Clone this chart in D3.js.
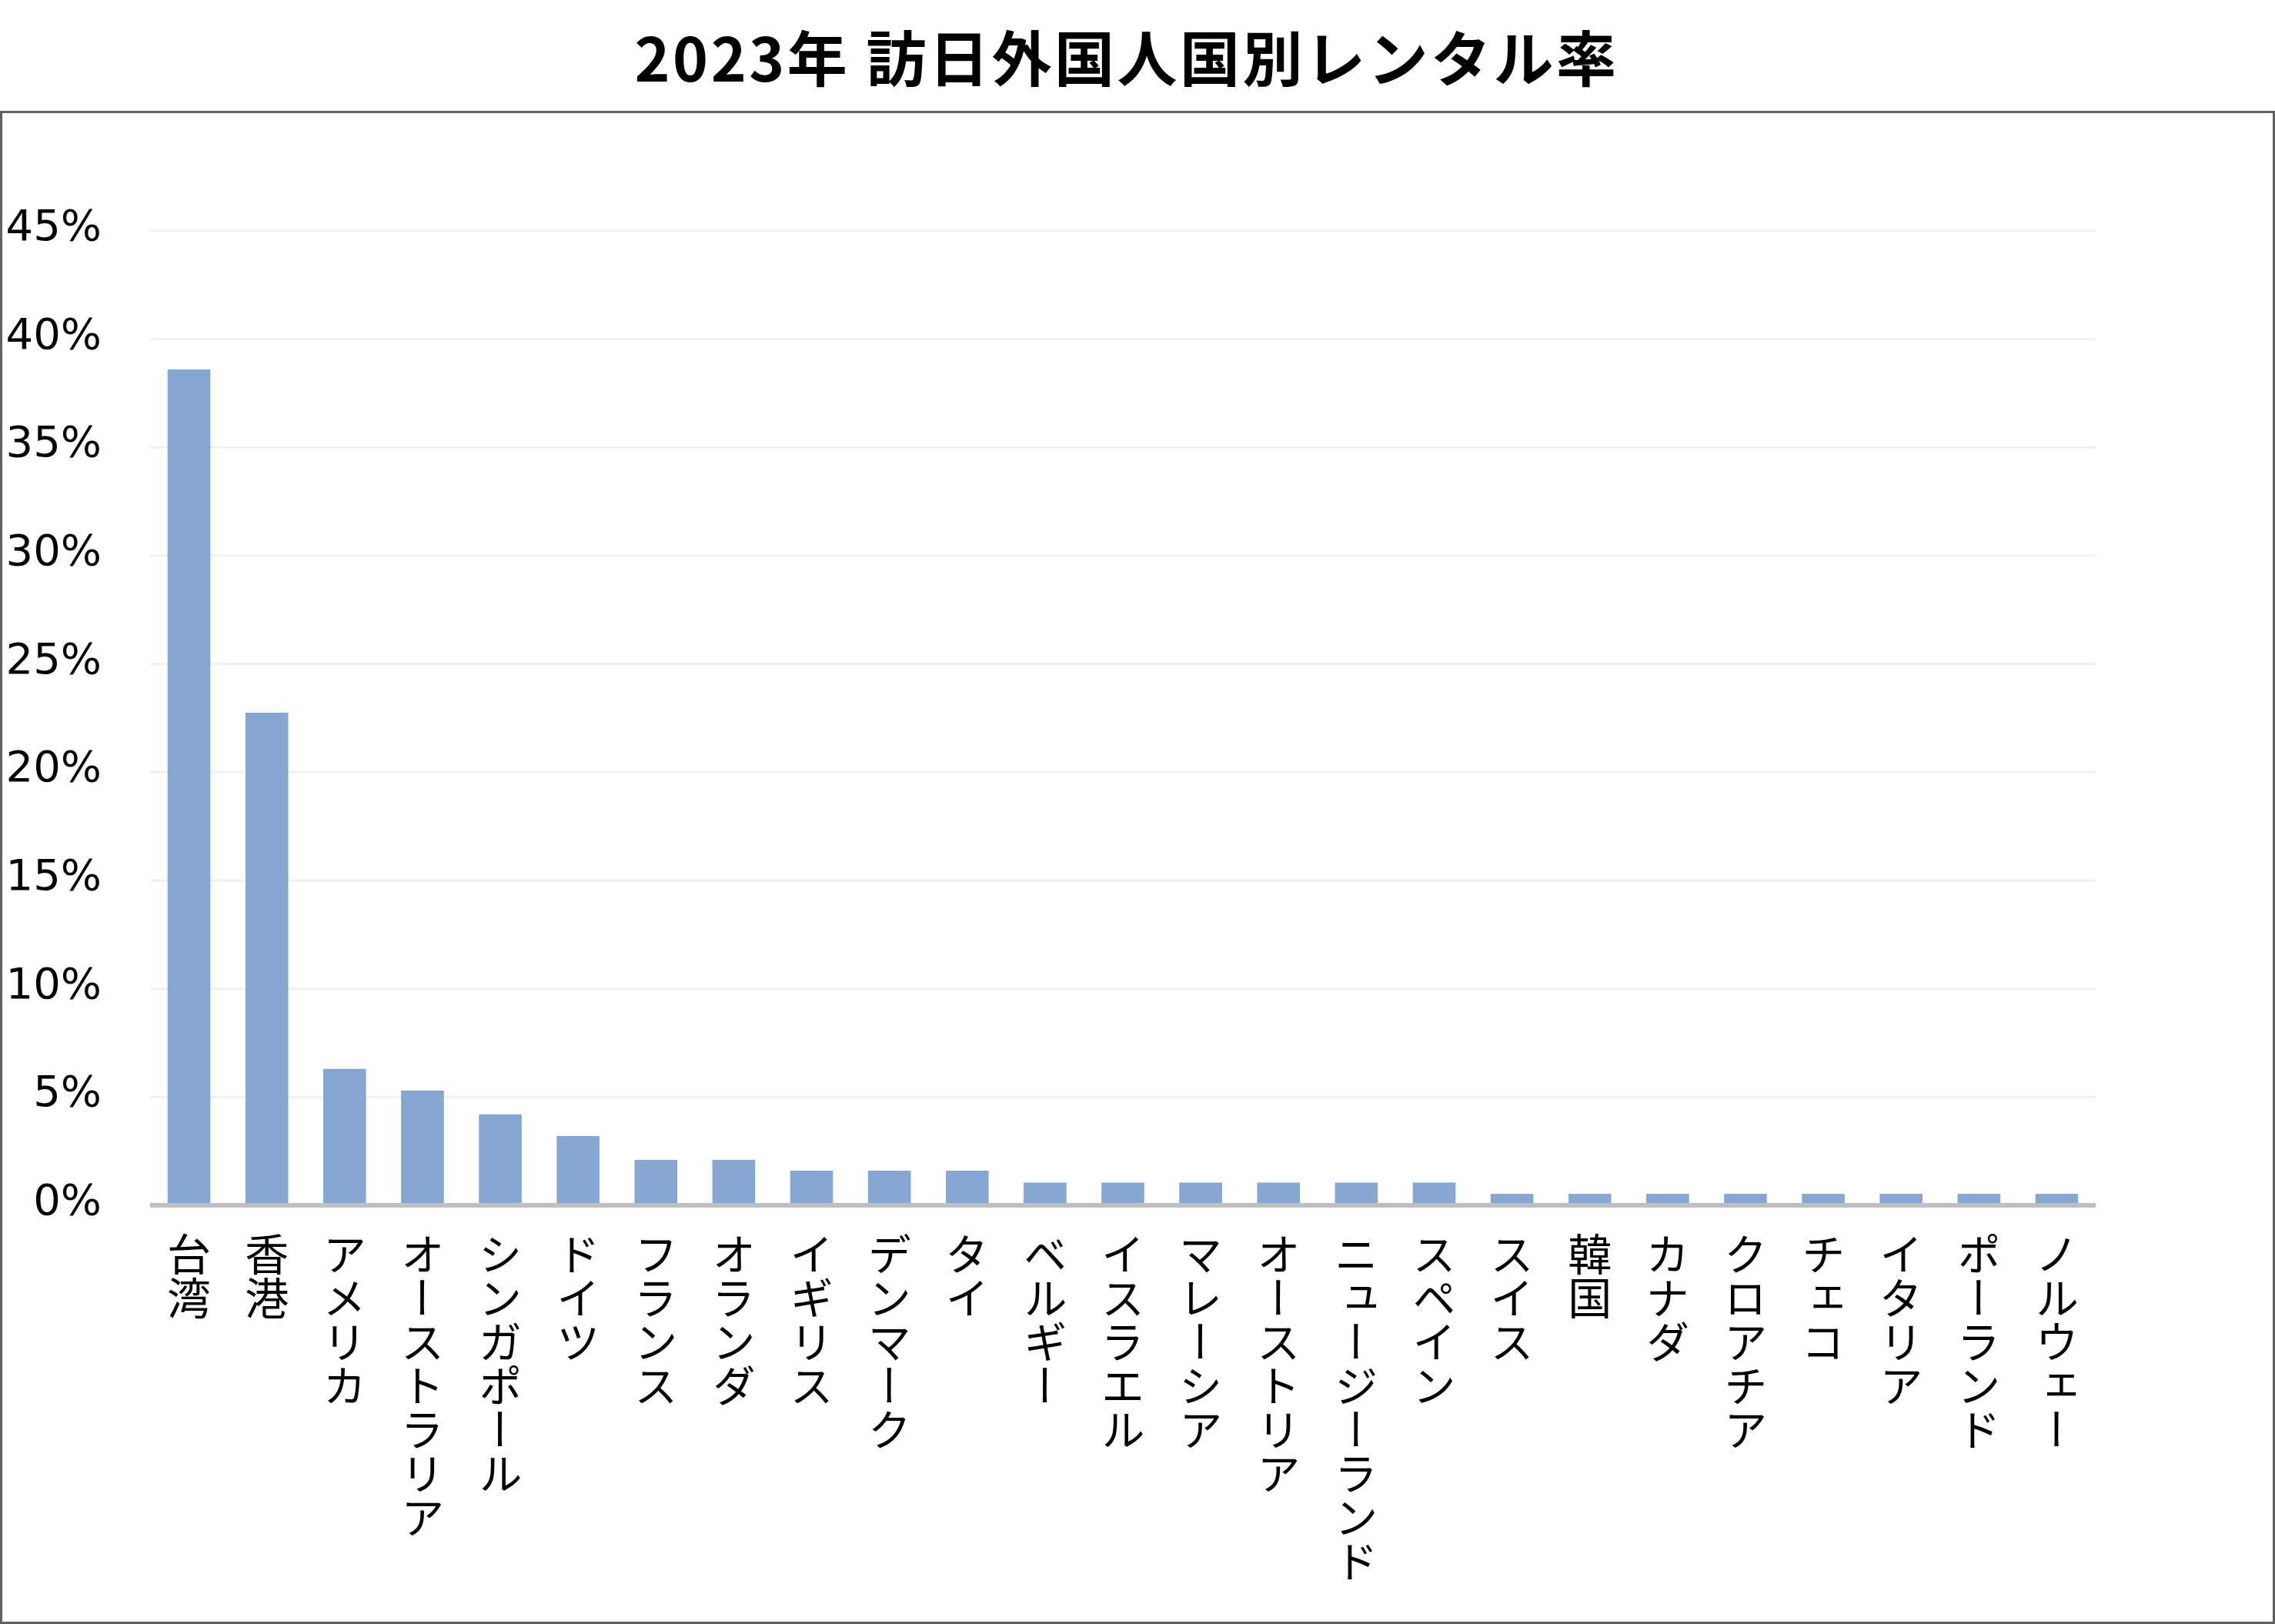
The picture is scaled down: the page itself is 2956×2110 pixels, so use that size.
<!DOCTYPE html>
<html><head><meta charset="utf-8">
<script src="https://cdn.jsdelivr.net/npm/d3@7"></script>
<style>html,body{margin:0;padding:0;background:#fff}</style>
</head><body>
<svg id="chart" width="2956" height="2110"></svg>
<script>
const chartTitle = "2023年 訪日外国人国別レンタル率";
const categories = ["台湾","香港","アメリカ","オーストラリア","シンガポール","ドイツ","フランス","オランダ","イギリス","デンマーク","タイ","ベルギー","イスラエル","マレーシア","オーストリア","ニュージーランド","スペイン","スイス","韓国","カナダ","クロアチア","チェコ","イタリア","ポーランド","ノルウェー"];
const rentalRate = [0.386,0.2275,0.063,0.053,0.042,0.032,0.021,0.021,0.016,0.016,0.016,0.0105,0.0105,0.0105,0.0105,0.0105,0.0105,0.0053,0.0053,0.0053,0.0053,0.0053,0.0053,0.0053,0.0053];
const yTicks = [0,0.05,0.10,0.15,0.20,0.25,0.30,0.35,0.40,0.45];

const W = 2956, H = 2110;
const svg = d3.select("#chart");
svg.append("rect").attr("width",W).attr("height",H).attr("fill","#fff");

// frame
svg.append("rect").attr("x",1.5).attr("y",145.5).attr("width",W-3).attr("height",H-147)
  .attr("fill","none").attr("stroke","#606060").attr("stroke-width",3);

// title
svg.append("text").attr("x",1464).attr("y",106).attr("text-anchor","middle")
  .attr("font-family","'Noto Sans CJK JP', sans-serif").attr("font-weight",700)
  .attr("font-size",78).attr("letter-spacing",3.5).attr("fill","#000").text(chartTitle);

const x = d3.scaleBand().domain(categories).range([195,2723]).paddingInner(0.45).paddingOuter(0.225);
const y = d3.scaleLinear().domain([0,0.45]).range([1566,300]);

// gridlines
svg.append("g").selectAll("line").data(yTicks.filter(d=>d>0)).join("line")
  .attr("x1",195).attr("x2",2723).attr("y1",d=>y(d)).attr("y2",d=>y(d))
  .attr("stroke","#f0f0f0").attr("stroke-width",3);

// bars
svg.append("g").selectAll("rect").data(categories).join("rect")
  .attr("x",d=>x(d)).attr("width",x.bandwidth())
  .attr("y",(d,i)=>y(rentalRate[i])).attr("height",(d,i)=>y(0)-y(rentalRate[i]))
  .attr("fill","#85a7d1");

// x axis line
svg.append("line").attr("x1",195).attr("x2",2723).attr("y1",y(0)).attr("y2",y(0))
  .attr("stroke","#bfbfbf").attr("stroke-width",6);

// y labels
const fmt = d3.format(".0%");
svg.append("g").selectAll("text").data(yTicks).join("text")
  .attr("x",132).attr("y",d=>y(d)+12).attr("text-anchor","end")
  .attr("font-family","'DejaVu Sans', Verdana, sans-serif").attr("font-size",56).attr("fill","#000")
  .text(d=>fmt(d));

// category labels (vertical)
svg.append("g").selectAll("text").data(categories).join("text")
  .attr("x",d=>x(d)+x.bandwidth()/2).attr("y",1601)
  .attr("font-family","'Noto Sans CJK JP', sans-serif").attr("font-size",57).attr("fill","#000")
  .style("writing-mode","vertical-rl")
  .text(d=>d);
</script>
</body></html>
